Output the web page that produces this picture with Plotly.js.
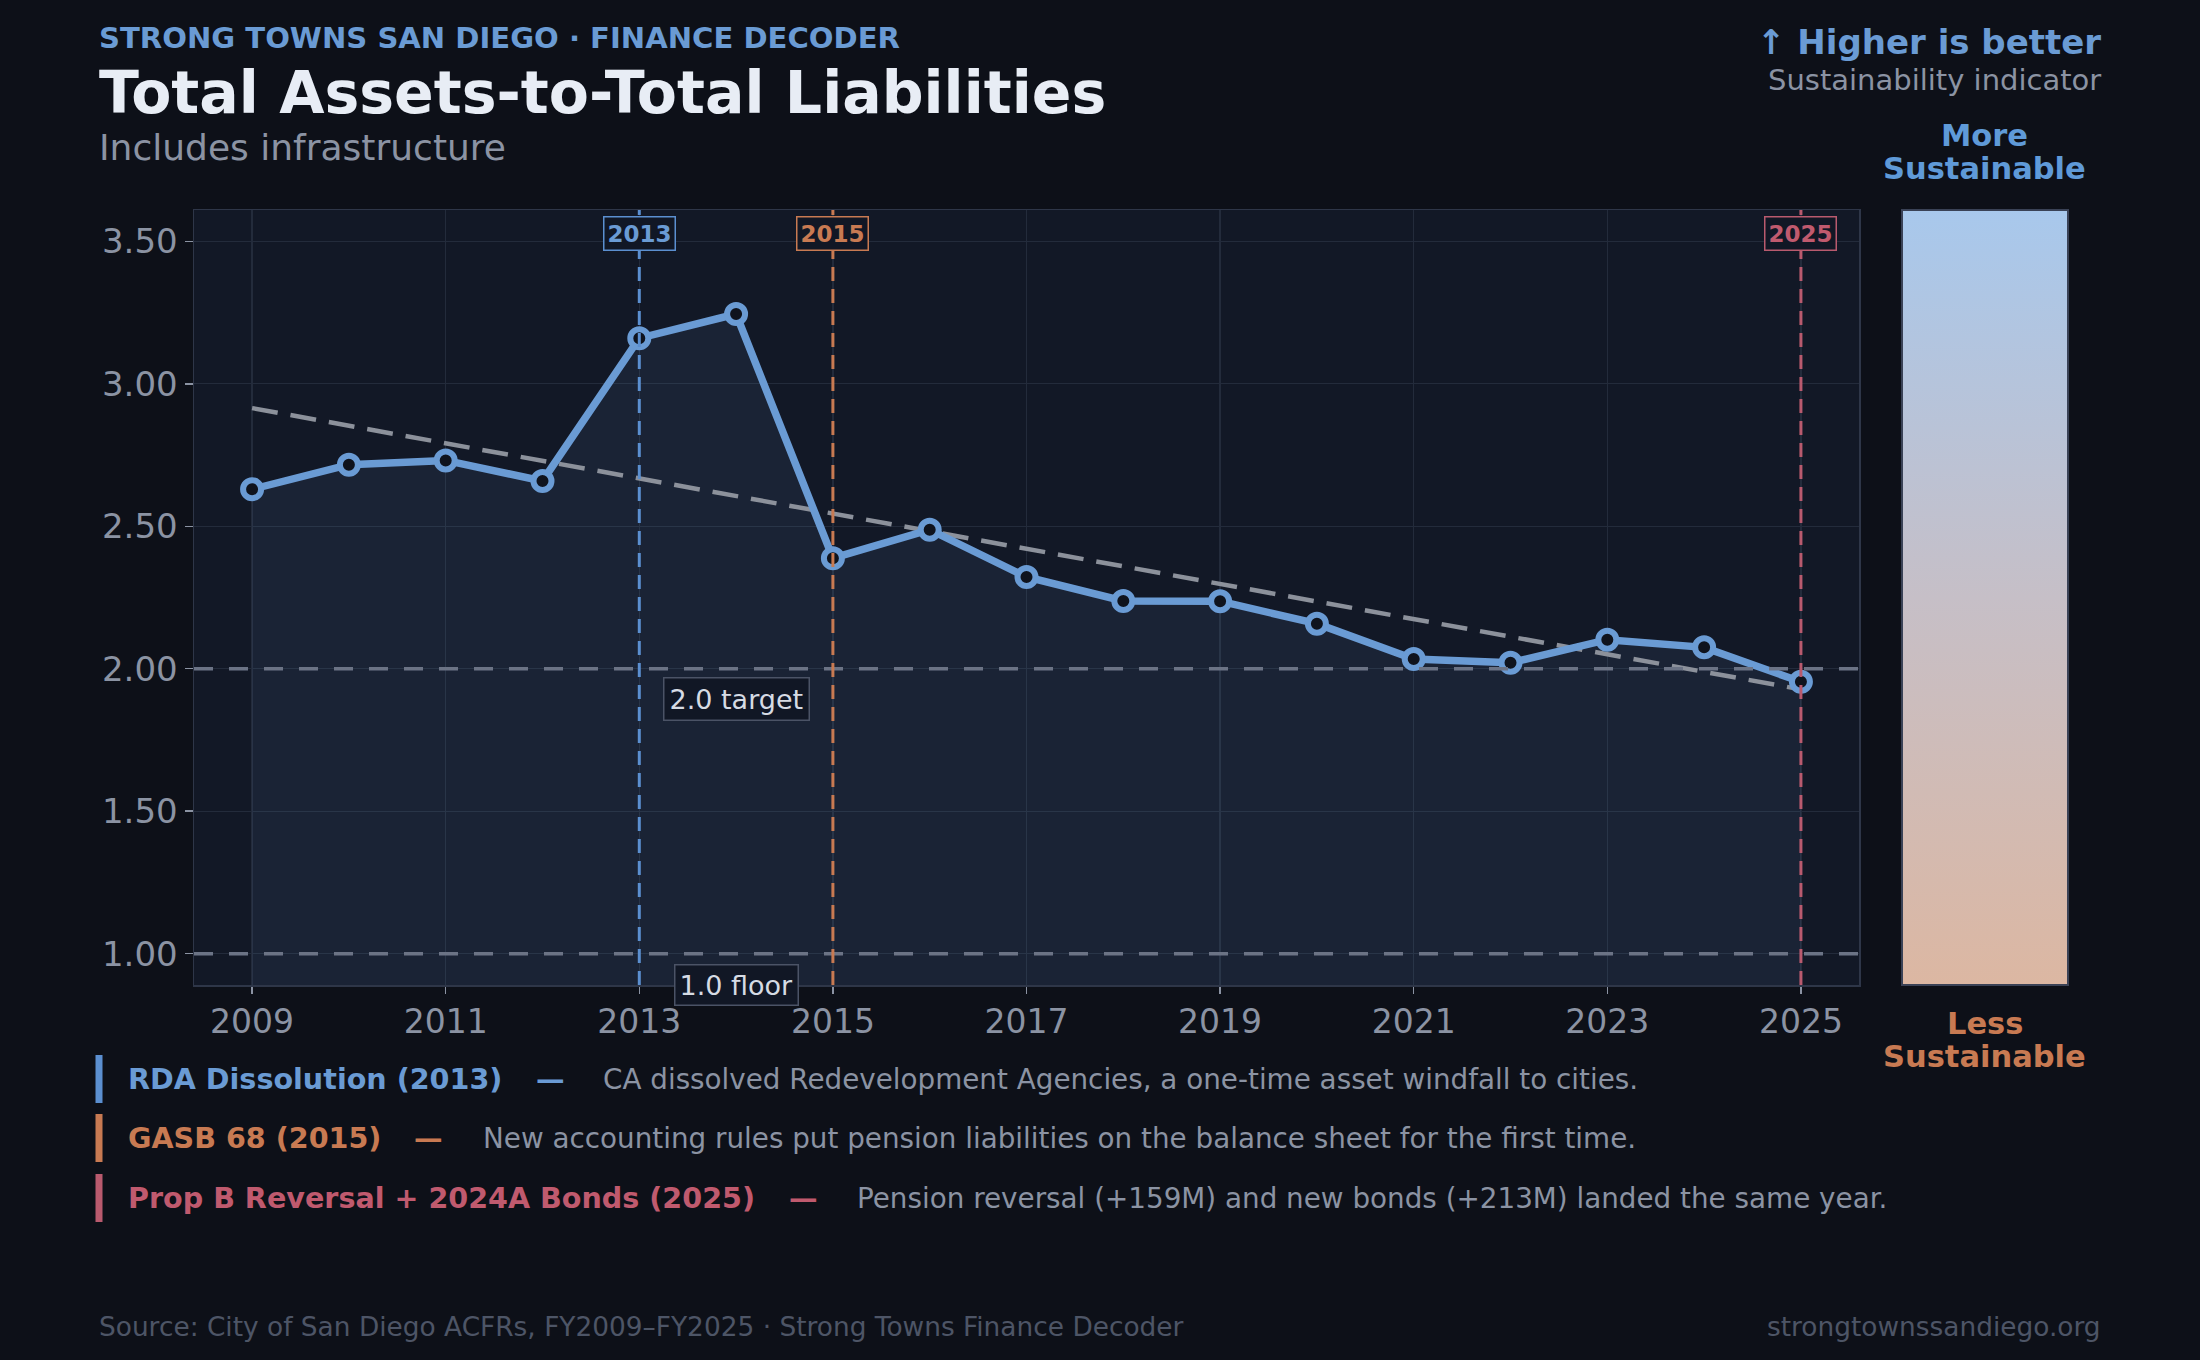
<!DOCTYPE html>
<html>
<head>
<meta charset="utf-8">
<script src="https://cdn.plot.ly/plotly-3.0.1.min.js"></script>
<style>
  html, body { margin: 0; padding: 0; background: #0d1018; }
  #chart { width: 2200px; height: 1360px; }
</style>
</head>
<body>
<div id="chart"></div>
<script>
// values
const years = [2009, 2010, 2011, 2012, 2013, 2014, 2015, 2016, 2017, 2018, 2019, 2020, 2021, 2022, 2023, 2024, 2025];
const ratio = [2.63, 2.716, 2.731, 2.659, 3.160, 3.245, 2.388, 2.488, 2.322, 2.238, 2.237, 2.158, 2.034, 2.021, 2.102, 2.075, 1.954];

const eventYears = [2013, 2015, 2025];
const eventColors = ["#5b8fd0", "#c87a52", "#b95a6e"];
const eventTextColors = ["#6a9bd4", "#c87a52", "#c05a6e"];
const eventTitles = ["RDA Dissolution (2013)", "GASB 68 (2015)", "Prop B Reversal + 2024A Bonds (2025)"];
const eventNotes = [
  "CA dissolved Redevelopment Agencies, a one-time asset windfall to cities.",
  "New accounting rules put pension liabilities on the balance sheet for the first time.",
  "Pension reversal (+159M) and new bonds (+213M) landed the same year."
];

const refLevels = [2.0, 1.0];
const refLabels = ["2.0 target", "1.0 floor"];

const sustainScale = [[0, "#dcb7a2"], [0.5, "#c6bfc7"], [1, "#a8c8ec"]];

// pixel box of the plot area
const W = 2200, H = 1360;
const L = 194, R = 1859, T = 210, B = 985;
const px = x => (x - L) / (R - L);
const py = y => (B - y) / (B - T);

const FONT = "DejaVu Sans, Verdana, sans-serif";
const GRAY = "#8b93a3";

// least squares trend through the series
function trendLine(xs, ys) {
  const n = xs.length;
  const mx = xs.reduce((a, b) => a + b, 0) / n;
  const my = ys.reduce((a, b) => a + b, 0) / n;
  let sxy = 0, sxx = 0;
  for (let i = 0; i < n; i++) {
    sxy += (xs[i] - mx) * (ys[i] - my);
    sxx += (xs[i] - mx) * (xs[i] - mx);
  }
  const k = sxy / sxx;
  return [xs[0], xs[n - 1]].map(x => my + k * (x - mx));
}
const trend = trendLine(years, ratio);

const traces = [
  {
    x: years, y: ratio,
    type: "scatter", mode: "lines",
    fill: "tozeroy", fillcolor: "rgba(106,155,212,0.09)",
    line: { color: "rgba(0,0,0,0)", width: 0 },
    hoverinfo: "skip", showlegend: false
  },
  {
    x: [years[0], years[years.length - 1]], y: trend,
    type: "scatter", mode: "lines",
    line: { color: "#8c919b", width: 4.5, dash: "26px,13px" },
    hoverinfo: "skip", showlegend: false
  },
  {
    x: years, y: ratio,
    type: "scatter", mode: "lines+markers",
    line: { color: "#6a9bd4", width: 7.5 },
    marker: { size: 18, color: "#0f131d", line: { color: "#6a9bd4", width: 6 } },
    showlegend: false
  },
  {
    // carrier for the sustainability colour strip
    x: [years[0]], y: [ratio[0]],
    type: "scatter", mode: "markers",
    marker: {
      size: 1, opacity: 0, color: [0], cmin: 0, cmax: 1,
      colorscale: sustainScale, showscale: true,
      colorbar: {
        x: px(1902), xanchor: "left", xpad: 0,
        y: 0.5, yanchor: "middle", ypad: 0,
        len: 1, lenmode: "fraction",
        thickness: 166, thicknessmode: "pixels",
        outlinecolor: "#3a4256", outlinewidth: 2,
        showticklabels: false, ticks: "",
        borderwidth: 0, bgcolor: "rgba(0,0,0,0)"
      }
    },
    hoverinfo: "skip", showlegend: false
  }
];

const shapes = [];
const annotations = [];

// reference levels
refLevels.forEach((lvl, i) => {
  shapes.push({
    type: "line", xref: "paper", x0: 0, x1: 1, yref: "y", y0: lvl, y1: lvl,
    line: { color: "#6b7385", width: 3.5, dash: "19px,16px" }
  });
});
annotations.push({
  x: 2014, xref: "x", y: refLevels[0] - 0.105, yref: "y",
  text: refLabels[0], showarrow: false,
  font: { family: FONT, size: 27, color: "#d6dbe4" },
  bgcolor: "#111725", bordercolor: "#4b5366", borderwidth: 1.5, borderpad: 5
});
annotations.push({
  x: 2014, xref: "x", y: 0, yref: "paper", yanchor: "middle",
  text: refLabels[1], showarrow: false,
  font: { family: FONT, size: 27, color: "#d6dbe4" },
  bgcolor: "#111725", bordercolor: "#4b5366", borderwidth: 1.5, borderpad: 4
});

// event markers
eventYears.forEach((yr, i) => {
  shapes.push({
    type: "line", xref: "x", x0: yr, x1: yr, yref: "paper", y0: 0, y1: 1,
    line: { color: eventColors[i], width: 3, dash: "14px,8px" }
  });
  annotations.push({
    x: yr, xref: "x", y: py(233), yref: "paper", yanchor: "middle",
    text: "<b>" + yr + "</b>", showarrow: false,
    font: { family: FONT, size: 23, color: eventTextColors[i] },
    bgcolor: "#111725", bordercolor: eventColors[i], borderwidth: 1.5, borderpad: 3
  });
});

// event notes under the chart
const noteRowsY = [1079, 1138, 1198];
const noteDashX = [534, 412, 787];
const noteTextX = [601, 481, 855];
eventTitles.forEach((title, i) => {
  const yy = noteRowsY[i];
  shapes.push({
    type: "line", xref: "paper", yref: "paper",
    x0: px(99), x1: px(99), y0: py(yy - 24), y1: py(yy + 24),
    line: { color: eventColors[i], width: 7 }
  });
  annotations.push({
    x: px(126), xref: "paper", xanchor: "left", y: py(yy), yref: "paper", yanchor: "middle",
    text: "<b>" + title + "</b>", showarrow: false,
    font: { family: FONT, size: 28.6, color: eventTextColors[i] }
  });
  annotations.push({
    x: px(noteDashX[i]), xref: "paper", xanchor: "left", y: py(yy), yref: "paper", yanchor: "middle",
    text: "<b>—</b>", showarrow: false,
    font: { family: FONT, size: 28.6, color: eventTextColors[i] }
  });
  annotations.push({
    x: px(noteTextX[i]), xref: "paper", xanchor: "left", y: py(yy), yref: "paper", yanchor: "middle",
    text: eventNotes[i], showarrow: false,
    font: { family: FONT, size: 27.8, color: GRAY }
  });
});

// header
function textAt(x, y, text, size, color, anchor) {
  annotations.push({
    x: px(x), xref: "paper", xanchor: anchor || "left",
    y: py(y), yref: "paper", yanchor: "middle",
    text: text, showarrow: false,
    font: { family: FONT, size: size, color: color }
  });
}
textAt(97, 38, "<b>STRONG TOWNS SAN DIEGO · FINANCE DECODER</b>", 29.1, "#6a9bd4");
textAt(97, 93, "<b>Total Assets-to-Total Liabilities</b>", 58.5, "#e8edf5");
textAt(97, 147, "Includes infrastructure", 36, GRAY);
textAt(2103, 42, "<b>↑ Higher is better</b>", 34, "#6a9bd4", "right");
textAt(2103, 80, "Sustainability indicator", 29, GRAY, "right");
textAt(1985, 135, "<b>More</b>", 30.5, "#5f9ad8", "center");
textAt(1985, 168, "<b>Sustainable</b>", 30.5, "#5f9ad8", "center");
textAt(1985, 1023, "<b>Less</b>", 30.5, "#c87a52", "center");
textAt(1985, 1056, "<b>Sustainable</b>", 30.5, "#c87a52", "center");

// footer
textAt(97, 1326, "Source: City of San Diego ACFRs, FY2009–FY2025 · Strong Towns Finance Decoder", 26.4, "#4d5566");
textAt(2103, 1326, "strongtownssandiego.org", 26.4, "#4d5566", "right");

const layout = {
  width: W, height: H,
  margin: { l: L, r: W - R, t: T, b: H - B, pad: 0 },
  paper_bgcolor: "#0d1018",
  plot_bgcolor: "#121826",
  font: { family: FONT, color: GRAY },
  showlegend: false,
  xaxis: {
    range: [2008.4, 2025.6],
    tick0: 2009, dtick: 2,
    showgrid: true, gridcolor: "#232b3b", gridwidth: 1.3,
    zeroline: false,
    showline: true, mirror: true, linecolor: "#2e3648", linewidth: 1.5,
    ticks: "outside", ticklen: 7, tickwidth: 1.5, tickcolor: GRAY,
    tickfont: { family: FONT, size: 33, color: GRAY }
  },
  yaxis: {
    range: [0.89, 3.61],
    tick0: 0, dtick: 0.5, tickformat: ".2f",
    showgrid: true, gridcolor: "#232b3b", gridwidth: 1.3,
    zeroline: false,
    showline: true, mirror: true, linecolor: "#2e3648", linewidth: 1.5,
    ticks: "outside", ticklen: 8, tickwidth: 1.5, tickcolor: GRAY,
    tickfont: { family: FONT, size: 34, color: GRAY }
  },
  shapes: shapes,
  annotations: annotations
};

Plotly.newPlot("chart", traces, layout, { displayModeBar: false, staticPlot: true });
</script>
</body>
</html>
